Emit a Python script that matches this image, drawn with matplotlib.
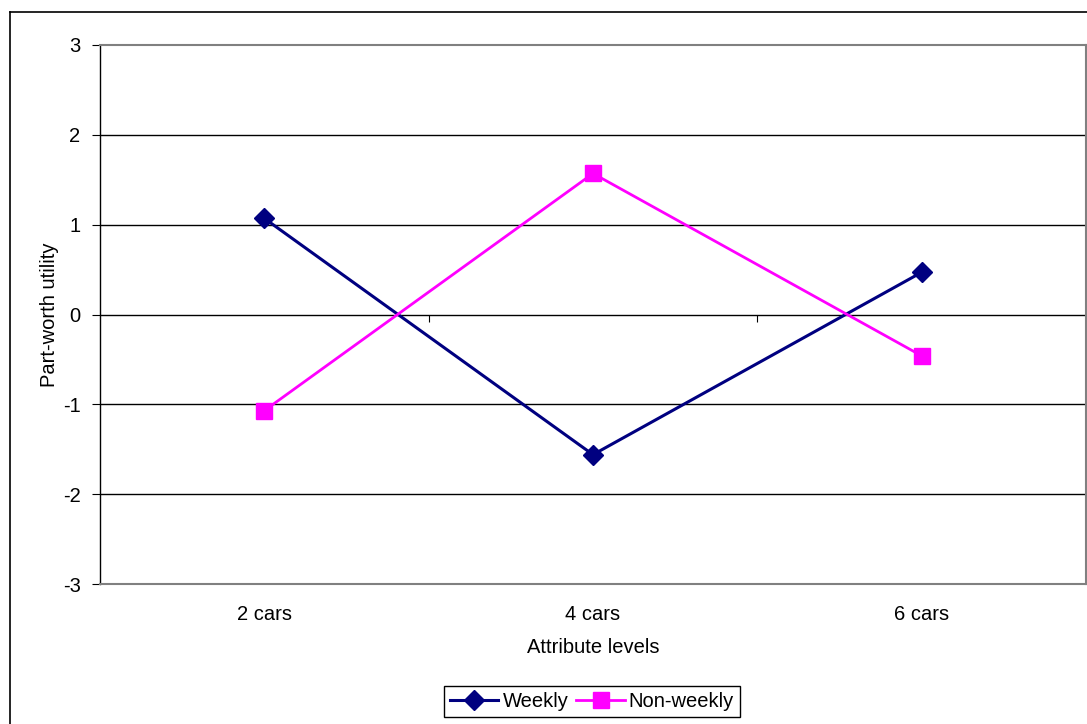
import numpy as np
import matplotlib.pyplot as plt
from matplotlib.lines import Line2D

plt.rc('font', family='Liberation Sans')
plt.rc('axes', unicode_minus=False)

levels = ['2 cars', '4 cars', '6 cars']
weekly = [1.07, -1.56, 0.47]
non_weekly = [-1.07, 1.57, -0.46]

x = np.arange(len(levels))

fig = plt.figure(figsize=(10.87, 7.24), dpi=100)
ax = fig.add_axes([100/1087, 1-584/724, 986/1087, 539/724])

# outer chart border (cut off at right/bottom like the original)
fig.add_artist(Line2D([10/1087, 10/1087], [0, 1-12/724], transform=fig.transFigure, color='black', lw=1.2))
fig.add_artist(Line2D([10/1087, 1], [1-12/724, 1-12/724], transform=fig.transFigure, color='black', lw=1.2))

ax.plot(x, weekly, color='#000080', lw=2.2, marker='D', ms=10, label='Weekly', zorder=3)
ax.plot(x, non_weekly, color='#FF00FF', lw=2.0, marker='s', ms=11, label='Non-weekly', zorder=3)

ax.set_xlim(-0.5, len(levels) - 0.5)
ax.set_ylim(-3, 3)
ax.set_yticks(range(-3, 4))
ax.set_xticks(x, labels=levels)
ax.tick_params(axis='x', length=0, pad=15, labelsize=14.5)
ax.tick_params(axis='y', direction='out', length=6, pad=8, labelsize=14.5, color='black')

for yv in [-2, -1, 0, 1, 2]:
    ax.axhline(yv, color='black', lw=1.0, zorder=1)

for side in ['top', 'right', 'bottom']:
    ax.spines[side].set_color('#808080')
    ax.spines[side].set_linewidth(1.5)
ax.spines['left'].set_color('black')
ax.spines['left'].set_linewidth(1.0)

# category axis crossing at zero with boundary tick marks
sec = ax.secondary_xaxis(0.5)
sec.set_alignment('bottom')
sec.set_xticks([0.5, 1.5], labels=['', ''])
sec.tick_params(direction='out', length=5, color='black')
for s in sec.spines.values():
    s.set_visible(False)

ax.set_xlabel('Attribute levels', fontsize=14.5, labelpad=10)
ax.set_ylabel('Part-worth utility', fontsize=14.5, labelpad=3)

leg = ax.legend(loc='upper center', bbox_to_anchor=(592/1087, 1-686/724),
                bbox_transform=fig.transFigure, ncol=2, fontsize=14.5,
                fancybox=False, framealpha=1, edgecolor='black',
                handlelength=2.4, handletextpad=0.2, columnspacing=0.4,
                borderpad=0.3, borderaxespad=0)
leg.get_frame().set_linewidth(1.0)

fig.savefig('out.png', dpi=100)
